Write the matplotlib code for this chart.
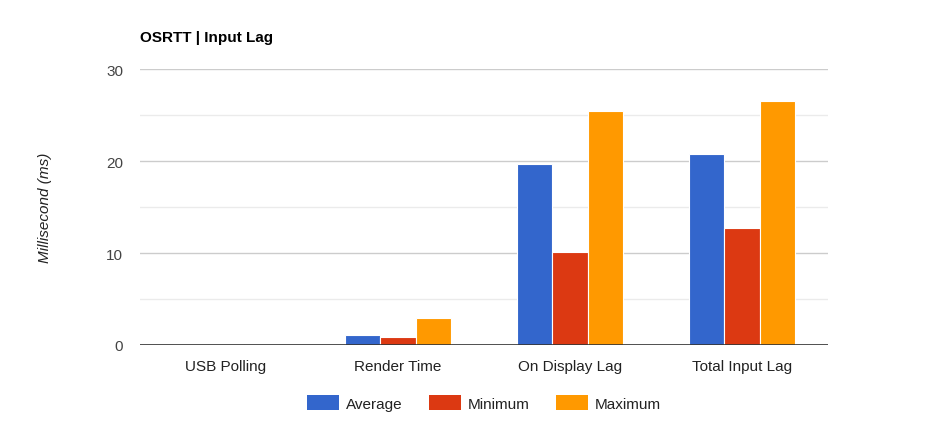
import numpy as np
import matplotlib
matplotlib.use("Agg")
import matplotlib.pyplot as plt
from matplotlib.patches import Patch

plt.rcParams['font.family'] = ['Liberation Sans', 'DejaVu Sans']

# Data dari grafik
kategori = ["USB Polling", "Render Time", "On Display Lag", "Total Input Lag"]
rata_rata = [0.1, 1.1, 19.7, 20.8]
minimum = [0.1, 0.9, 10.1, 12.7]
maksimum = [0.1, 2.9, 25.4, 26.5]
seri = ["Average", "Minimum", "Maximum"]
warna = ["#3366cc", "#dc3912", "#ff9900"]

fig = plt.figure(figsize=(9.47, 4.31), dpi=100)
ax = fig.add_axes([140 / 947, 85 / 431, 688 / 947, 276 / 431])

x = np.arange(len(kategori))
lebar = 0.205
for i, (nilai, w) in enumerate(zip([rata_rata, minimum, maksimum], warna)):
    ax.bar(x + (i - 1) * lebar, nilai, lebar, color=w, edgecolor="white",
           linewidth=0.8, zorder=3)

ax.set_xlim(-0.5, 3.5)
ax.set_ylim(0, 30)
ax.set_yticks([0, 10, 20, 30])
ax.set_yticks([5, 15, 25], minor=True)
ax.grid(axis="y", which="major", color="#cccccc", linewidth=1, zorder=0)
ax.grid(axis="y", which="minor", color="#ebebeb", linewidth=1, zorder=0)
ax.axhline(0, color="#333333", linewidth=1.2, zorder=4)

for s in ax.spines.values():
    s.set_visible(False)
ax.tick_params(axis="both", which="both", length=0)
ax.tick_params(axis="y", colors="#444444", labelsize=11, pad=12)
ax.tick_params(axis="x", colors="#222222", labelsize=11, pad=10)
ax.set_xticks(x)
ax.set_xticklabels(kategori)

# label sumbu y
fig.text(45 / 947, 1 - 208 / 431, "Millisecond (ms)", fontsize=11, style="italic",
         color="#222222", rotation=90, ha="center", va="center")

fig.text(140 / 947, 1 - 38 / 431, "OSRTT | Input Lag", fontsize=11,
         fontweight="bold", color="#000000", va="center", ha="left")

handles = [Patch(facecolor=w, edgecolor="none") for w in warna]
fig.legend(handles, seri, loc="center", bbox_to_anchor=(484 / 947, 1 - 404 / 431),
           ncol=3, frameon=False, fontsize=11, handlelength=2.1, handleheight=1.05,
           columnspacing=1.7, handletextpad=0.45, labelcolor="#222222")

fig.savefig("out.png", dpi=100)
